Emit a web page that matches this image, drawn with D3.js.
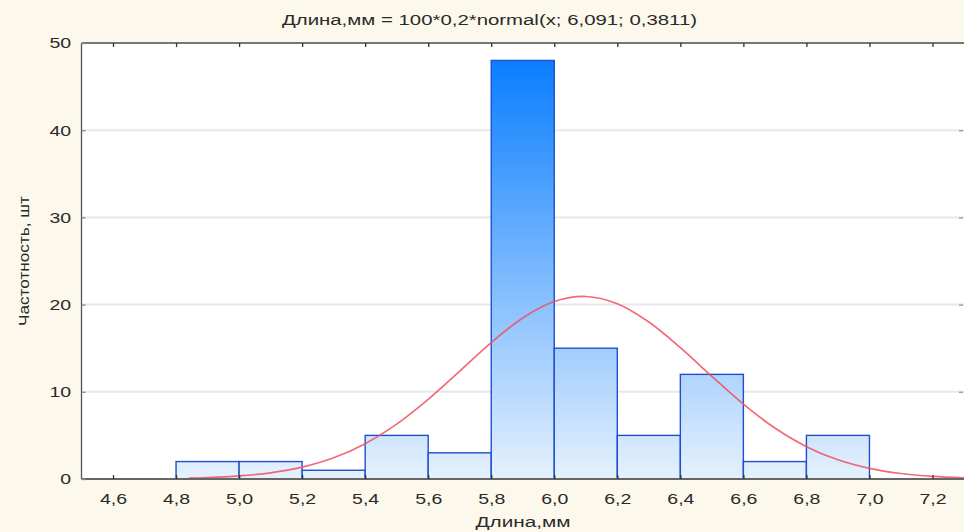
<!DOCTYPE html>
<html><head><meta charset="utf-8">
<script src="https://cdn.jsdelivr.net/npm/d3@7"></script>
<style>
html,body{margin:0;padding:0;background:#fdf8ec;}
svg{display:block;}
text{font-family:"Liberation Sans",Arial,sans-serif;fill:#2a2a2a;}
</style></head>
<body>
<svg id="chart" width="964" height="532"></svg>
<script>
// Data
const binStarts = [4.8, 5.0, 5.2, 5.4, 5.6, 5.8, 6.0, 6.2, 6.4, 6.6, 6.8];
const binWidth = 0.2;
const counts = [2, 2, 1, 5, 3, 48, 15, 5, 12, 2, 5];
const curveX = [4.84, 4.9, 5.0, 5.1, 5.2, 5.3, 5.4, 5.5, 5.6, 5.7, 5.8, 5.9, 6.0, 6.1, 6.2, 6.3, 6.4, 6.5, 6.6, 6.7, 6.8, 6.9, 7.0, 7.1, 7.2, 7.3];
const curveY = [0.11, 0.16, 0.35, 0.71, 1.36, 2.43, 4.05, 6.29, 9.13, 12.37, 15.64, 18.47, 20.35, 20.93, 20.10, 18.01, 15.07, 11.77, 8.58, 5.84, 3.71, 2.20, 1.22, 0.63, 0.30, 0.14];
const xTicks = [4.6, 4.8, 5.0, 5.2, 5.4, 5.6, 5.8, 6.0, 6.2, 6.4, 6.6, 6.8, 7.0, 7.2];
const yTicks = [0, 10, 20, 30, 40, 50];
const titleText = "Длина,мм = 100*0,2*normal(x; 6,091; 0,3811)";
const xLabel = "Длина,мм";
const yLabel = "Частотность, шт";

const svg = d3.select("#chart");
const L = 81.5, R = 964, T = 43, B = 479;
const x = d3.scaleLinear().domain([4.5, 7.3]).range([L, R]);
const y = d3.scaleLinear().domain([0, 50]).range([B, T]);
const fmt = d => d3.format(".1f")(d).replace(".", ",");
const SX = 1.3; // horizontal stretch of text as in the reference

// plot background
svg.append("rect").attr("x", L).attr("y", T).attr("width", R - L).attr("height", B - T).attr("fill", "#ffffff");

// gradient
const defs = svg.append("defs");
const grad = defs.append("linearGradient").attr("id", "barGrad")
  .attr("gradientUnits", "userSpaceOnUse")
  .attr("x1", 0).attr("x2", 0).attr("y1", y(48)).attr("y2", y(0));
grad.append("stop").attr("offset", "0%").attr("stop-color", "#0a7eff");
grad.append("stop").attr("offset", "100%").attr("stop-color", "#e6f1fd");

// grid lines
svg.append("g").selectAll("line").data(yTicks.filter(d => d > 0 && d < 50)).join("line")
  .attr("x1", L).attr("x2", R).attr("y1", d => y(d)).attr("y2", d => y(d))
  .attr("stroke", "#e8e8e8").attr("stroke-width", 2);

// bars
svg.append("g").selectAll("rect").data(binStarts).join("rect")
  .attr("x", (d) => x(d))
  .attr("width", d => x(d + binWidth) - x(d))
  .attr("y", (d, i) => y(counts[i]))
  .attr("height", (d, i) => y(0) - y(counts[i]))
  .attr("fill", "url(#barGrad)")
  .attr("stroke", "#1f4fd0").attr("stroke-width", 1.4);

// curve
const line = d3.line().x((d, i) => x(curveX[i])).y(d => y(d)).curve(d3.curveCatmullRom);
svg.append("path").datum(curveY).attr("d", line)
  .attr("fill", "none").attr("stroke", "#f0505e").attr("stroke-width", 1.7).attr("stroke-opacity", 0.85);

// axes frame
const frame = svg.append("g").attr("stroke", "#555").attr("stroke-width", 1.3);
frame.append("line").attr("x1", L).attr("x2", L).attr("y1", T).attr("y2", B);
frame.append("line").attr("x1", L).attr("x2", R).attr("y1", B).attr("y2", B).attr("stroke", "#666").attr("stroke-width", 2);
frame.append("line").attr("x1", L).attr("x2", R).attr("y1", T).attr("y2", T).attr("stroke", "#777").attr("stroke-width", 2);

// bottom axis
const xAxisB = d3.axisBottom(x).tickValues(xTicks).tickSize(-4).tickPadding(14).tickFormat(fmt);
const gx = svg.append("g").attr("transform", `translate(0,${B})`).call(xAxisB);
gx.select(".domain").remove();
gx.selectAll("line").attr("stroke", "#333").attr("stroke-width", 1.3);
gx.selectAll("text").attr("font-size", 15).attr("fill", "#333").attr("transform", `scale(${SX},1)`)
  .style("font-family", "Liberation Sans, Arial, sans-serif");

// top ticks
const xAxisT = d3.axisTop(x).tickValues(xTicks).tickSize(-4).tickFormat("");
const gt = svg.append("g").attr("transform", `translate(0,${T})`).call(xAxisT);
gt.select(".domain").remove();
gt.selectAll("line").attr("stroke", "#333").attr("stroke-width", 1.3);

// left axis
const yAxisL = d3.axisLeft(y).tickValues(yTicks).tickSize(-4).tickPadding(8).tickFormat(d3.format("d"));
const gy = svg.append("g").attr("transform", `translate(${L},0)`).call(yAxisL);
gy.select(".domain").remove();
gy.selectAll("line").attr("stroke", "#888").attr("stroke-width", 1.3);
gy.selectAll("text").attr("font-size", 15).attr("fill", "#333").attr("transform", `scale(${SX},1)`)
  .style("font-family", "Liberation Sans, Arial, sans-serif");

// right ticks
const yAxisR = d3.axisRight(y).tickValues(yTicks.filter(d => d > 0 && d < 50)).tickSize(-4).tickFormat("");
const gr = svg.append("g").attr("transform", `translate(${R - 1},0)`).call(yAxisR);
gr.select(".domain").remove();
gr.selectAll("line").attr("stroke", "#999").attr("stroke-width", 1.3);

// title
svg.append("text").attr("x", 489.5).attr("y", 25).attr("text-anchor", "middle")
  .attr("font-size", 15.5).attr("textLength", 415).attr("lengthAdjust", "spacingAndGlyphs")
  .text(titleText);

// x label
svg.append("text").attr("x", 523).attr("y", 527).attr("text-anchor", "middle")
  .attr("font-size", 15.5).attr("fill", "#333").attr("textLength", 95).attr("lengthAdjust", "spacingAndGlyphs")
  .text(xLabel);

// y label
svg.append("text").attr("transform", "translate(29,261) rotate(-90)").attr("text-anchor", "middle")
  .attr("font-size", 14).attr("fill", "#333").attr("textLength", 130).attr("lengthAdjust", "spacingAndGlyphs")
  .text(yLabel);
</script>
</body></html>
